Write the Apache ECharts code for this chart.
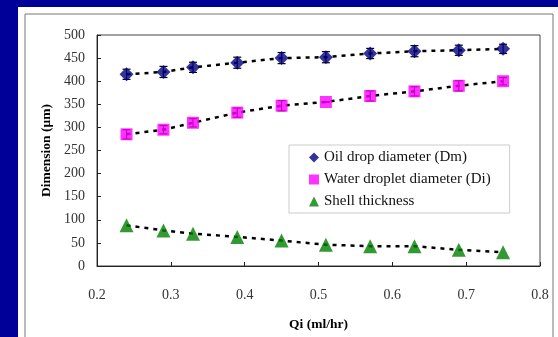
<!DOCTYPE html>
<html>
<head>
<meta charset="utf-8">
<script src="https://cdn.jsdelivr.net/npm/echarts@6/dist/echarts.min.js"></script>
<style>
  html, body { margin: 0; padding: 0; background: #000099; }
  #main { width: 558px; height: 337px; }
</style>
</head>
<body>
<div id="main"></div>
<script>
// flow rate of inner phase (ml/hr)
const qi = [0.24, 0.29, 0.33, 0.39, 0.45, 0.51, 0.57, 0.63, 0.69, 0.75];
// oil drop diameter Dm (um) and its error
const dm = [415, 420, 430, 440, 450, 452, 460, 465, 467, 470];
const dmErr = [11, 12, 11, 12, 12, 12, 11, 12, 11, 10];
// water droplet diameter Di (um) and its error
const di = [285, 295, 310, 332, 347, 355, 368, 378, 390, 400];
const diErr = [10, 9, 9, 10, 11, 0, 11, 10, 11, 8];
// shell thickness (um)
const shell = [88, 77, 70, 63, 55, 46, 43, 43, 35, 30];

const names = ['Oil drop diameter (Dm)', 'Water droplet diameter (Di)', 'Shell thickness'];

const pairs = arr => qi.map((x, i) => [x, arr[i]]);
const errData = (arr, err) => qi.map((x, i) => [x, arr[i] - err[i], arr[i] + err[i]]);

function errorBar(params, api) {
  const lo = api.coord([api.value(0), api.value(1)]);
  const hi = api.coord([api.value(0), api.value(2)]);
  const w = 4;
  const st = { stroke: '#000', lineWidth: 1.2 };
  return {
    type: 'group',
    children: [
      { type: 'line', shape: { x1: lo[0], y1: lo[1], x2: hi[0], y2: hi[1] }, style: st },
      { type: 'line', shape: { x1: lo[0] - w, y1: lo[1], x2: lo[0] + w, y2: lo[1] }, style: st },
      { type: 'line', shape: { x1: hi[0] - w, y1: hi[1], x2: hi[0] + w, y2: hi[1] }, style: st }
    ]
  };
}

const dashLine = arr => ({
  type: 'line',
  data: pairs(arr),
  symbol: 'none',
  silent: true,
  z: 1,
  lineStyle: { color: '#000', width: 2.5, type: [4, 5] }
});

const chart = echarts.init(document.getElementById('main'));
chart.setOption({
  backgroundColor: '#000099',
  animation: false,
  textStyle: { fontFamily: 'Liberation Serif' },
  graphic: [
    { type: 'rect', z: -10, shape: { x: 18, y: 7, width: 540, height: 330 }, style: { fill: '#fff' } },
    { type: 'rect', z: -9, shape: { x: 25, y: 14, width: 528, height: 340 }, style: { fill: 'none', stroke: '#777', lineWidth: 1 } }
  ],
  grid: {
    left: 97, top: 35, right: 18, bottom: 66,
    show: true, borderColor: '#444', borderWidth: 1, backgroundColor: '#fff'
  },
  legend: {
    data: [
      { name: names[0], icon: 'diamond' },
      { name: names[1], icon: 'rect' },
      { name: names[2], icon: 'triangle' }
    ],
    orient: 'vertical',
    left: 289, top: 145,
    padding: [5, 19, 4, 20],
    itemGap: 7,
    itemWidth: 10, itemHeight: 10,
    backgroundColor: '#fff',
    borderColor: '#ccc',
    borderWidth: 1,
    textStyle: { fontFamily: 'Liberation Serif', fontSize: 15, color: '#111' }
  },
  xAxis: {
    type: 'value',
    min: 0.2, max: 0.8, interval: 0.1,
    name: 'Qi (ml/hr)',
    nameLocation: 'middle',
    nameGap: 52,
    nameTextStyle: { fontFamily: 'Liberation Serif', fontSize: 13.5, fontWeight: 'bold', color: '#000' },
    axisLine: { lineStyle: { color: '#222', width: 1 } },
    axisTick: { inside: true, length: 4, lineStyle: { color: '#222' } },
    axisLabel: { margin: 22, fontSize: 14, color: '#333', formatter: v => v.toFixed(1) },
    splitLine: { show: false }
  },
  yAxis: {
    type: 'value',
    min: 0, max: 500, interval: 50,
    name: 'Dimension (\u03bcm)',
    nameLocation: 'middle',
    nameGap: 40,
    nameTextStyle: { fontFamily: 'Liberation Serif', fontSize: 13.5, fontWeight: 'bold', color: '#000' },
    axisLine: { show: true, lineStyle: { color: '#222', width: 1 } },
    axisTick: { show: true, inside: true, length: 4, lineStyle: { color: '#222' } },
    axisLabel: { margin: 12, fontSize: 14, color: '#333' },
    splitLine: { show: false }
  },
  series: [
    dashLine(dm),
    dashLine(di),
    dashLine(shell),
    { type: 'custom', renderItem: errorBar, data: errData(dm, dmErr), z: 2, silent: true },
    { type: 'custom', renderItem: errorBar, data: errData(di, diErr), z: 2, silent: true },
    {
      name: names[0], type: 'scatter', data: pairs(dm), symbol: 'diamond', symbolSize: 14, z: 3,
      itemStyle: { color: '#000080' }
    },
    {
      name: names[1], type: 'scatter', data: pairs(di), symbol: 'rect', symbolSize: 12, z: 3,
      itemStyle: { color: '#ff00ff' }
    },
    {
      name: names[2], type: 'scatter', data: pairs(shell), symbol: 'triangle', symbolSize: 14, z: 3,
      itemStyle: { color: '#008000' }
    }
  ]
});
</script>
</body>
</html>
